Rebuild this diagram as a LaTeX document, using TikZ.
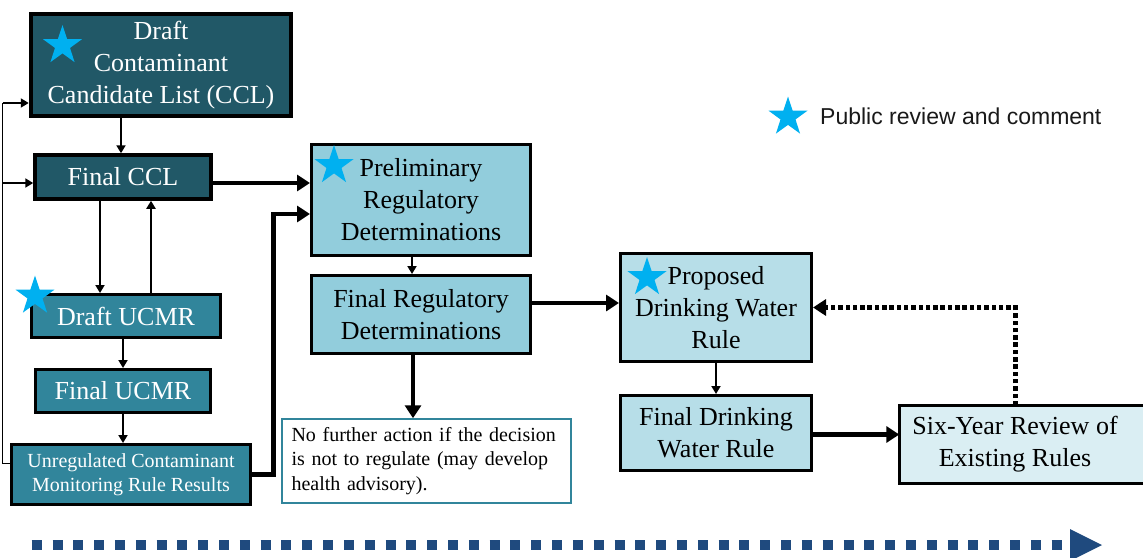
\documentclass[tikz,border=0pt]{standalone}
\usepackage{fontspec}
\setmainfont{Liberation Serif}
\newfontfamily\legendfont{Liberation Sans}
\usetikzlibrary{arrows.meta,shapes.geometric,calc}
\definecolor{dkteal}{HTML}{215867}
\definecolor{mdteal}{HTML}{31859B}
\definecolor{ltblue}{HTML}{92CDDC}
\definecolor{lrblue}{HTML}{B7DEE8}
\definecolor{lsblue}{HTML}{DAEEF3}
\definecolor{starc}{HTML}{00B0F0}
\definecolor{navyc}{HTML}{1F4A7E}
\begin{document}
\begin{tikzpicture}[x=1pt,y=-1pt,
  box/.style={draw=black, rectangle, inner sep=0pt, align=center, line width=3pt},
  bigtxt/.style={font=\fontsize{26}{32}\selectfont},
  smalltxt/.style={font=\fontsize{20}{24}\selectfont},
  starmark/.style={star, star points=5, star point ratio=2.6, fill=starc, draw=none, minimum size=41pt, inner sep=0pt},
  conthin/.style={line width=1.8pt, -{Triangle[length=8pt,width=9pt]}},
  conthick/.style={line width=4.5pt, -{Triangle[length=13pt,width=16pt]}},
  condot/.style={line width=5pt, dash pattern=on 4.5pt off 2.8pt, -{Triangle[length=13pt,width=16pt]}}]
\clip (0,0) rectangle (1143,557);
\fill[white] (0,0) rectangle (1143,557);

% boxes
\node[box, line width=4.5pt, fill=dkteal, text=white, bigtxt, minimum width=260pt, minimum height=102pt] (dccl) at (161,65) {Draft\\Contaminant\\Candidate List (CCL)};
\node[box, line width=3.5pt, fill=dkteal, text=white, bigtxt, minimum width=176pt, minimum height=44pt] (fccl) at (123,177) {Final CCL};
\node[box, fill=mdteal, text=white, bigtxt, minimum width=189pt, minimum height=43pt] (ducmr) at (126,316) {Draft UCMR};
\node[box, fill=mdteal, text=white, bigtxt, minimum width=175pt, minimum height=43pt] (fucmr) at (123,391) {Final UCMR};
\node[box, fill=mdteal, text=white, smalltxt, minimum width=239pt, minimum height=60pt] (res) at (131,474.5) {Unregulated Contaminant\\Monitoring Rule Results};
\node[box, fill=ltblue, text=black, bigtxt, minimum width=219pt, minimum height=111pt] (prel) at (421,200) {Preliminary\\Regulatory\\Determinations};
\node[box, fill=ltblue, text=black, bigtxt, minimum width=219pt, minimum height=78pt] (freg) at (421,314.5) {Final Regulatory\\Determinations};
\node[box, fill=white, draw=mdteal, line width=1.5pt, text=black, font=\fontsize{20}{24.5}\selectfont, text width=270pt, align=left, minimum width=289pt, minimum height=84pt] (nofa) at (426.5,461) {No further action if the decision\\is not to regulate (may develop\\health advisory).};
\node[box, fill=lrblue, text=black, bigtxt, minimum width=191pt, minimum height=108pt] (prop) at (716,307.5) {Proposed\\Drinking Water\\Rule};
\node[box, fill=lrblue, text=black, bigtxt, minimum width=191pt, minimum height=75pt] (fdw) at (716,433) {Final Drinking\\Water Rule};
\filldraw[fill=lsblue, draw=black, line width=3pt] (899.5,405.5) rectangle (1160,483.5);
\node[inner sep=0pt, align=center, text=black, bigtxt, minimum width=231pt, minimum height=78pt] (six) at (1015,444.5) {Six-Year Review of\\Existing Rules};

% stars
\node[starmark] (s1) at (62.5,45.5) {};
\node[starmark] (s2) at (35,296) {};
\node[starmark] (s3) at (334,165.5) {};
\node[starmark] (s4) at (647,277.5) {};

% legend
\node[starmark] (legstar) at (788,117) {};
\node[anchor=base west, inner sep=0pt, text=black!90, font=\legendfont\fontsize{23}{28}\selectfont] (legtxt) at (820,124) {Public review and comment};

% loop on the left
\coordinate (loopb) at (2.5,463.5);
\coordinate (loopm) at (2.5,183);
\coordinate (loopt) at (2.5,103);
\draw[line width=1.8pt] ([yshift=11pt]res.west) -- (loopb) -- (loopt);
\draw[conthin] (loopt) -- (dccl.west |- loopt);
\draw[conthin] (loopm) -- ([yshift=-6pt]fccl.west);

% thin connectors
\draw[conthin] ([xshift=-40pt]dccl.south) -- ([xshift=-40pt]dccl.south |- fccl.north);
\draw[conthin] ([xshift=-23pt]fccl.south) -- ([xshift=-23pt]fccl.south |- ducmr.north);
\draw[conthin] ([xshift=25pt]ducmr.north) -- ([xshift=25pt]ducmr.north |- fccl.south);
\draw[conthin] (fucmr.north |- ducmr.south) -- (fucmr.north);
\draw[conthin] (fucmr.south) -- (fucmr.south |- res.north);
\draw[conthin] ([xshift=-9pt]prel.south) -- ([xshift=-9pt]prel.south |- freg.north);
\draw[conthin] (prop.south) -- (fdw.north);

% thick connectors
\draw[conthick] ([yshift=-6pt]fccl.east) -- ([yshift=-6pt]fccl.east -| prel.west);
\draw[conthick, rounded corners=0pt] ([yshift=0pt]res.east) -- ++(21.5,0) |- ([yshift=-14pt]prel.west);
\draw[conthick] ([xshift=-8pt]freg.south) -- ([xshift=-8pt]freg.south |- nofa.north);
\draw[conthick] ([yshift=11.5pt]freg.east) -- ([yshift=11.5pt]freg.east -| prop.west);
\draw[conthick] ([yshift=-1.5pt]fdw.east) -- ([yshift=-1.5pt]fdw.east -| six.west);

% dotted feedback
\draw[condot] (six.north) |- (prop.east);

% timeline arrow
\coordinate (tl0) at (31.7,545);
\coordinate (tl1) at (1061.7,545);
\draw[navyc, line width=10pt, dash pattern=on 10pt off 10.816pt] (tl0) -- (tl1);
\fill[navyc] (1070,529) -- (1102,545) -- (1070,561) -- cycle;
\end{tikzpicture}
\end{document}
